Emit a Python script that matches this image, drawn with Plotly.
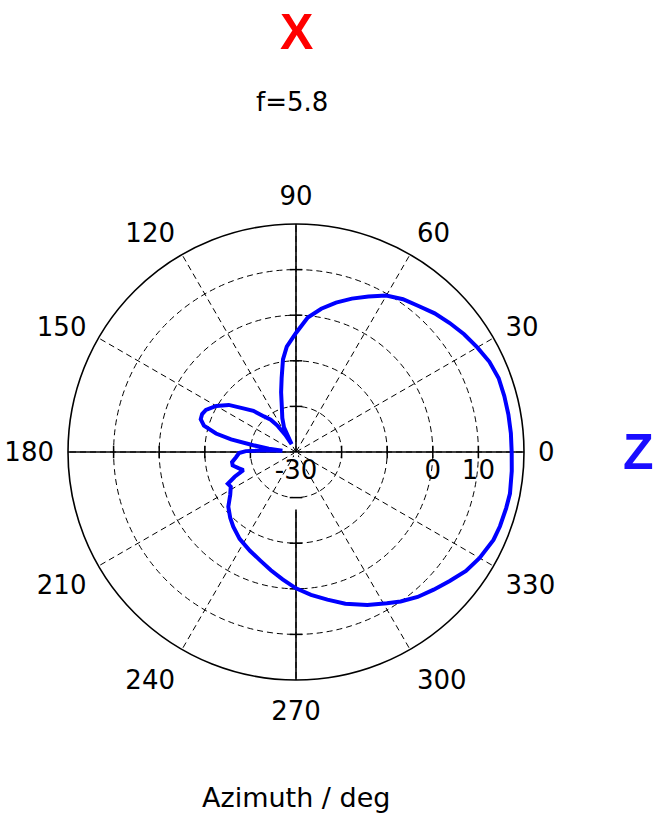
import plotly.graph_objects as go

# ---- data ----
azimuth_deg = [0, 5, 10, 15, 20, 25, 30, 35, 40, 45, 50, 55, 60, 65, 70, 75, 80, 85, 90,
               95, 98, 101, 104, 108, 112, 116, 119, 122, 125, 128, 132, 136, 140, 145,
               150, 155, 158, 161, 164, 167, 169, 171, 173, 175, 177, 179, 181, 185, 189,
               192, 196, 199, 202, 205, 208, 213, 219, 225, 230, 237, 245, 252, 258, 264,
               270, 276, 282, 288, 295, 301, 305, 310, 315, 320, 325, 330, 336, 340, 345, 349,
               355, 360]
gain_db = [17.3, 17.3, 17.3, 17.3, 17.3, 16.8, 15.9, 15.0, 14.0, 13.0, 11.8, 10.9, 9.6, 7.6,
           5.8, 3.9, 1.9, -0.4, -3.9, -6.8, -9.5, -13.5, -16.5, -20.0, -22.0, -24.0, -28.0,
           -25.5, -23.0, -21.0, -19.5, -17.0, -15.2, -12.0, -9.8, -8.2, -7.8, -7.9, -9.0,
           -12.0, -15.5, -20.5, -24.0, -27.0, -23.0, -19.0, -17.5, -16.8, -15.8, -15.8,
           -17.0, -17.8, -15.5, -13.5, -13.8, -12.8, -10.9, -9.6, -8.6, -7.3, -6.1, -4.9,
           -3.5, -1.9, -0.1, 1.5, 3.1, 5.0, 7.0, 8.7, 10.0, 11.5, 12.7, 14.0, 15.5, 16.5,
           17.4, 17.6, 17.7, 17.8, 17.5, 17.3]

radial_ticks = [-30, -20, -10, 0, 10, 20]
radial_ticktext = ["-30", "", "", "0", "10", ""]
angular_ticks = list(range(0, 360, 30))
axis_angles = [0, 90, 180, 270]
r_min, r_max = -30, 20
title_text = "f=5.8"

# ---- layout geometry ----
W, H = 654, 818
L, T, S = 68, 224, 456
R, B = W - L - S, H - T - S

def px(x):
    return (x - L) / S

def py(y):
    return (T + S - y) / S

fig = go.Figure()

# the "-30" label sits on a white box that hides the lower axis near the centre
label_gap_end = -17.4
fig.add_trace(go.Scatterpolar(r=[r_min, label_gap_end], theta=[270, 270], mode="lines",
                              line=dict(color="white", width=4),
                              hoverinfo="skip", showlegend=False))

# solid axis lines through centre
axis_inner_end = {0: r_min, 90: r_min, 180: r_min, 270: label_gap_end}
for a in axis_angles:
    fig.add_trace(go.Scatterpolar(r=[r_max, axis_inner_end[a]], theta=[a, a], mode="lines",
                                  line=dict(color="black", width=1.6),
                                  hoverinfo="skip", showlegend=False))

# small tick marks on the axis lines
inner_ticks = radial_ticks[1:-1]
for a in axis_angles:
    sym = "line-ns" if a in (0, 180) else "line-ew"
    fig.add_trace(go.Scatterpolar(r=inner_ticks, theta=[a] * len(inner_ticks),
                                  mode="markers",
                                  marker=dict(symbol=sym, size=9,
                                              line=dict(color="black", width=1.5)),
                                  hoverinfo="skip", showlegend=False))

# pattern
fig.add_trace(go.Scatterpolar(r=gain_db, theta=azimuth_deg, mode="lines",
                              line=dict(color="#0000FF", width=4),
                              showlegend=False))

fig.update_layout(
    width=W, height=H,
    margin=dict(l=L, r=R, t=T, b=B, pad=0),
    paper_bgcolor="white",
    plot_bgcolor="white",
    font=dict(family="DejaVu Sans", size=26, color="black"),
    polar=dict(
        domain=dict(x=[0, 1], y=[0, 1]),
        bgcolor="white",
        radialaxis=dict(range=[r_min, r_max], tickvals=radial_ticks,
                        ticktext=radial_ticktext, angle=0, showline=False,
                        showgrid=True, gridcolor="black", gridwidth=1.3,
                        griddash="6px,4px", ticks="",
                        tickfont=dict(family="DejaVu Sans", size=26, color="black")),
        angularaxis=dict(tickvals=angular_ticks, direction="counterclockwise",
                         rotation=0, showline=True, linecolor="black", linewidth=1.6,
                         showgrid=True, gridcolor="black", gridwidth=1.3,
                         griddash="6px,4px", ticks="outside", ticklen=8,
                         tickcolor="rgba(255,255,255,0)",
                         tickfont=dict(family="DejaVu Sans", size=26, color="black")),
    ),
    annotations=[
        dict(text="X", x=px(296), y=py(32), xref="paper", yref="paper",
             xanchor="center", yanchor="middle", showarrow=False,
             font=dict(family="Liberation Sans", size=50, color="#FF0000", weight="bold")),
        dict(text="Z", x=px(638), y=py(452), xref="paper", yref="paper",
             xanchor="center", yanchor="middle", showarrow=False,
             font=dict(family="Liberation Sans", size=50, color="#1A0DFF", weight="bold")),
        dict(text=title_text, x=px(292), y=py(102), xref="paper", yref="paper",
             xanchor="center", yanchor="middle", showarrow=False,
             font=dict(family="DejaVu Sans", size=26, color="black")),
        dict(text="Azimuth / deg", x=px(296), y=py(797), xref="paper", yref="paper",
             xanchor="center", yanchor="middle", showarrow=False,
             font=dict(family="DejaVu Sans", size=27, color="black")),
    ],
)

fig.write_html("out.html", config={"displayModeBar": False},
               post_script="document.body.style.margin='0';document.body.style.overflow='hidden';")
